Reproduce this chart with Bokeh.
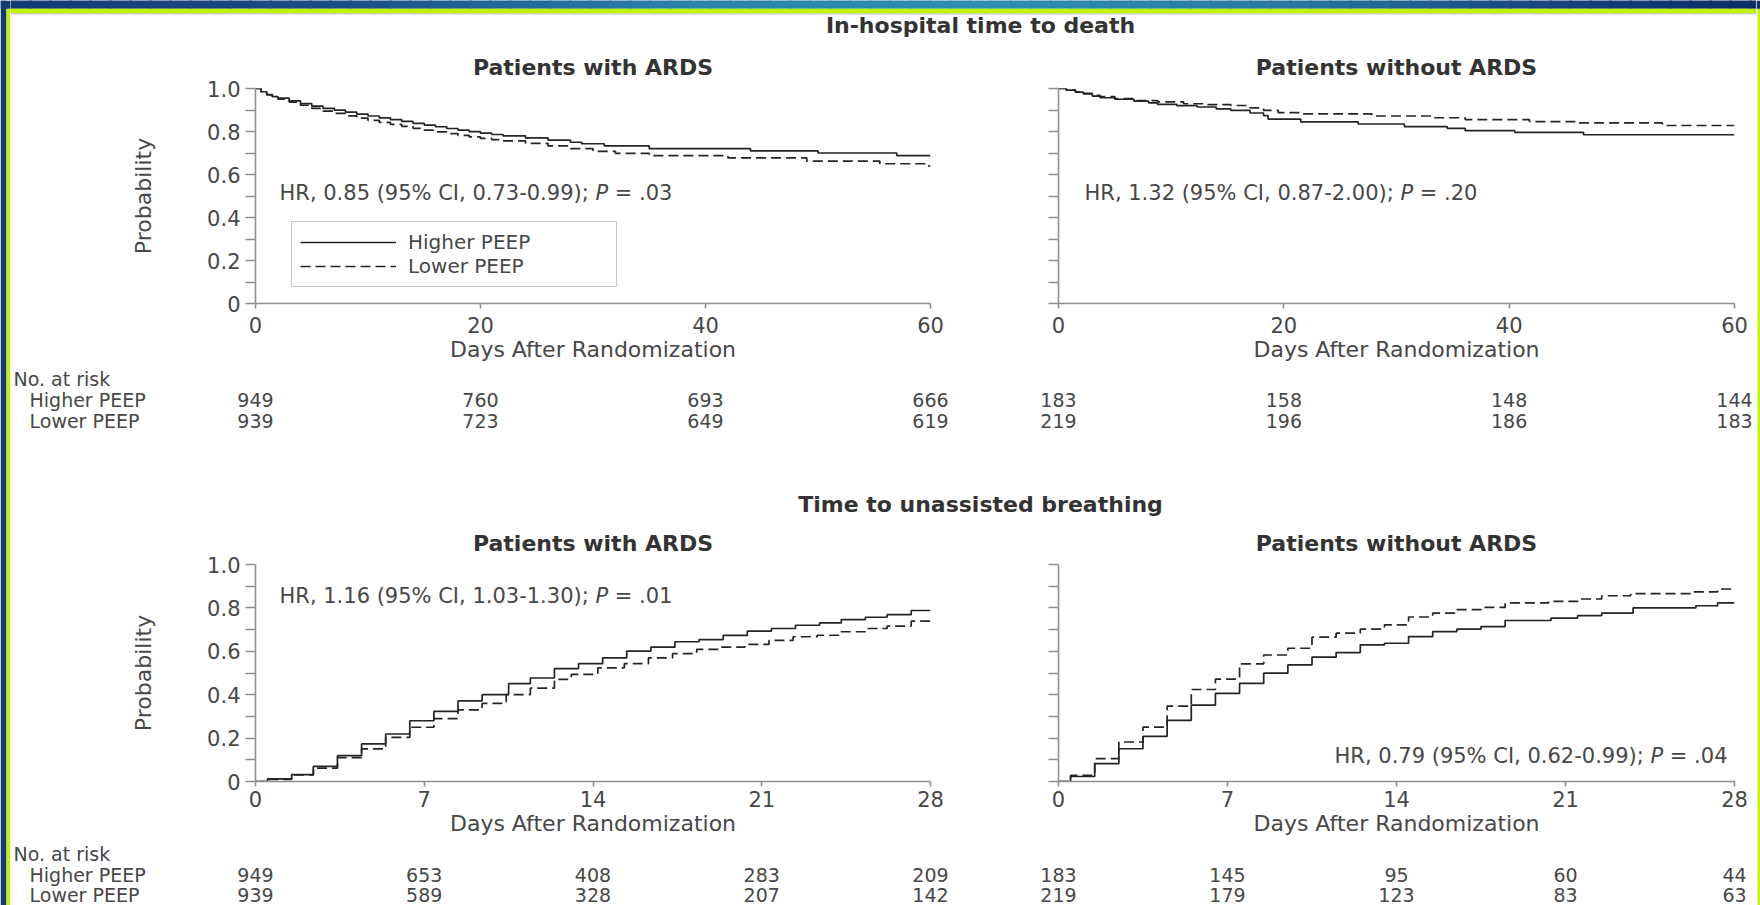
from bokeh.plotting import figure
from bokeh.models import (Range1d, FactorRange, FixedTicker, CustomJSTickFormatter, Label,
                          Legend, LegendItem, BoxAnnotation)
from bokeh.layouts import column, row
from bokeh.embed import file_html
from bokeh.resources import INLINE
from bokeh.core.properties import value

# ---------------------------------------------------------------- data
group_labels = ["Higher PEEP", "Lower PEEP"]
risk_header = "No. at risk"
outcome_titles = ["In-hospital time to death", "Time to unassisted breathing"]
panel_titles = ["Patients with ARDS", "Patients without ARDS"]
x_axis_label = "Days After Randomization"
y_axis_label = "Probability"

death_ticks = [0, 20, 40, 60]
breath_ticks = [0, 7, 14, 21, 28]
prob_ticks = [0, 0.2, 0.4, 0.6, 0.8, 1.0]
prob_minor_ticks = [0.1, 0.3, 0.5, 0.7, 0.9]

# In-hospital survival, patients with ARDS
death_ards_hi_days = [0, 0.5, 1, 1.5, 2, 3, 4, 5, 6, 7, 8, 9, 10, 11, 12, 13, 14, 15, 16, 17, 18, 19,
                      20, 21, 22, 24, 26, 28, 29, 31, 35, 44, 50, 57, 60]
death_ards_hi_surv = [1.0, 0.985, 0.972, 0.962, 0.955, 0.942, 0.93, 0.918, 0.908, 0.899, 0.89, 0.881,
                      0.872, 0.863, 0.855, 0.847, 0.838, 0.83, 0.822, 0.814, 0.806, 0.799, 0.792, 0.786,
                      0.78, 0.77, 0.76, 0.75, 0.743, 0.733, 0.72, 0.71, 0.70, 0.688, 0.688]
death_ards_lo_days = [0, 0.5, 1, 1.5, 2, 3, 4, 5, 6, 7, 8, 9, 10, 11, 12, 13, 14, 15, 16, 17, 18, 19,
                      20, 21, 22, 24, 26, 28, 30, 32, 35, 42, 49, 55.5, 59.5, 60]
death_ards_lo_surv = [1.0, 0.983, 0.97, 0.96, 0.95, 0.937, 0.922, 0.908, 0.895, 0.884, 0.873, 0.862,
                      0.852, 0.842, 0.833, 0.824, 0.815, 0.806, 0.798, 0.79, 0.782, 0.775, 0.768, 0.762,
                      0.756, 0.745, 0.733, 0.72, 0.708, 0.698, 0.688, 0.677, 0.662, 0.65, 0.64, 0.64]

# In-hospital survival, patients without ARDS
death_non_hi_days = [0, 0.7, 1.5, 2.2, 3, 3.7, 5, 6.7, 8, 8.8, 10.5, 12.3, 14, 15.3, 17, 18.2, 18.6,
                     21.5, 26.6, 30.7, 34.5, 36.1, 40.5, 46.6, 60]
death_non_hi_surv = [1.0, 0.992, 0.983, 0.975, 0.965, 0.957, 0.95, 0.941, 0.933, 0.926, 0.92, 0.914,
                     0.905, 0.898, 0.886, 0.874, 0.858, 0.845, 0.835, 0.823, 0.815, 0.804, 0.796,
                     0.785, 0.785]
death_non_lo_days = [0, 0.7, 1.5, 2.2, 3, 3.7, 5, 6.7, 8.8, 11.1, 13, 15.3, 17, 18.2, 19.5, 21.5,
                     27.8, 33.2, 36.1, 41.8, 46, 53.6, 60]
death_non_lo_surv = [1.0, 0.993, 0.985, 0.977, 0.968, 0.962, 0.953, 0.944, 0.938, 0.929, 0.925, 0.921,
                     0.91, 0.898, 0.888, 0.882, 0.872, 0.864, 0.855, 0.846, 0.84, 0.828, 0.828]

# Unassisted breathing, patients with ARDS
breath_ards_hi_days = [0, 0.5, 1.5, 2.4, 3.4, 4.4, 5.4, 6.4, 7.4, 8.4, 9.4, 10.5, 11.4, 12.4, 13.4,
                       14.4, 15.4, 16.4, 17.4, 18.4, 19.4, 20.4, 21.4, 22.4, 23.4, 24.3, 25.3, 26.2,
                       27.2, 28]
breath_ards_hi_prob = [0, 0.012, 0.032, 0.07, 0.119, 0.173, 0.219, 0.28, 0.323, 0.372, 0.40, 0.451,
                       0.477, 0.52, 0.543, 0.57, 0.601, 0.619, 0.644, 0.654, 0.673, 0.693, 0.705, 0.72,
                       0.731, 0.746, 0.757, 0.769, 0.788, 0.788]
breath_ards_lo_days = [0, 0.5, 1.5, 2.4, 3.4, 4.4, 5.4, 6.4, 7.4, 8.4, 9.4, 10.4, 11.4, 12.4, 13.1,
                       14.2, 15.3, 16.3, 17.3, 18.3, 19.3, 20.3, 21.3, 22.3, 23.3, 24.2, 25.3, 26.2,
                       27.2, 28]
breath_ards_lo_prob = [0, 0.01, 0.03, 0.062, 0.11, 0.15, 0.203, 0.25, 0.29, 0.33, 0.36, 0.40, 0.43,
                       0.471, 0.494, 0.524, 0.543, 0.57, 0.589, 0.609, 0.619, 0.632, 0.65, 0.667,
                       0.674, 0.69, 0.705, 0.716, 0.739, 0.739]

# Unassisted breathing, patients without ARDS
breath_non_hi_days = [0, 0.5, 1.5, 2.5, 3.5, 4.5, 5.5, 6.5, 7.5, 8.5, 9.5, 10.5, 11.5, 12.5, 13.5,
                      14.5, 15.5, 16.5, 17.5, 18.5, 20.4, 21.5, 22.5, 23.8, 26.4, 27.3, 28]
breath_non_hi_prob = [0, 0.023, 0.082, 0.151, 0.208, 0.282, 0.352, 0.406, 0.452, 0.499, 0.537, 0.573,
                      0.594, 0.63, 0.637, 0.668, 0.691, 0.702, 0.714, 0.742, 0.753, 0.764, 0.776,
                      0.80, 0.81, 0.823, 0.823]
breath_non_lo_days = [0, 0.5, 1.5, 2.5, 3.5, 4.5, 5.5, 6.5, 7.5, 8.5, 9.5, 10.5, 11.5, 12.5, 13.5,
                      14.5, 15.5, 16.5, 17.5, 18.5, 20.3, 21.5, 22.5, 23.7, 26.3, 27.3, 28]
breath_non_lo_prob = [0, 0.028, 0.105, 0.182, 0.251, 0.347, 0.424, 0.472, 0.542, 0.583, 0.614, 0.665,
                      0.684, 0.702, 0.722, 0.758, 0.776, 0.792, 0.802, 0.823, 0.83, 0.841, 0.856,
                      0.866, 0.874, 0.887, 0.887]

# Numbers at risk
risk_death_ards_hi = [949, 760, 693, 666]
risk_death_ards_lo = [939, 723, 649, 619]
risk_death_non_hi = [183, 158, 148, 144]
risk_death_non_lo = [219, 196, 186, 183]
risk_breath_ards_hi = [949, 653, 408, 283, 209]
risk_breath_ards_lo = [939, 589, 328, 207, 142]
risk_breath_non_hi = [183, 145, 95, 60, 44]
risk_breath_non_lo = [219, 179, 123, 83, 63]

# Hazard ratio annotations (text before italic P, italic P, text after)
hr_death_ards = ["HR, 0.85 (95% CI, 0.73-0.99);", "P", "= .03"]
hr_death_non = ["HR, 1.32 (95% CI, 0.87-2.00);", "P", "= .20"]
hr_breath_ards = ["HR, 1.16 (95% CI, 1.03-1.30);", "P", "= .01"]
hr_breath_non = ["HR, 0.79 (95% CI, 0.62-0.99);", "P", "= .04"]

# ---------------------------------------------------------------- style
FONT = "DejaVu Sans"
TXT = "#474747"
TITLE_C = "#333333"
AX = "#8f8f8f"
INK = "#242424"
YELLOW = "#c2f400"
EDGE_GRAY = "#c4c4c4"
W, H = 1760, 905
BAND = 8.3       # dark band height at the top
YBAND = 12.7     # bottom of the yellow band

DEJAVU_ADV = {" ": 651, "%": 1946, "(": 799, ")": 799, ",": 651, "-": 739, ".": 651, ";": 690,
              "=": 1716, "C": 1430, "H": 1540, "I": 604, "P": 1235, "R": 1423}

# decorative slide-background gradient stops (page x, colour)
GRAD_STOPS = [(0, (0x13, 0x3a, 0x72)), (350, (0x1b, 0x4f, 0x86)), (700, (0x2a, 0x84, 0xaa)),
              (1000, (0x2f, 0x8f, 0xb2)), (1300, (0x27, 0x77, 0x9f)), (1550, (0x17, 0x43, 0x7b)),
              (1760, (0x0e, 0x2d, 0x66))]


def grad_color(px):
    for (a, ca), (b, cb) in zip(GRAD_STOPS[:-1], GRAD_STOPS[1:]):
        if a <= px <= b:
            t = (px - a) / (b - a)
            c = [round(ca[i] + (cb[i] - ca[i]) * t) for i in range(3)]
            return "#%02x%02x%02x" % tuple(c)
    return "#0e2d66"


def text_width(s, size):
    return sum(DEJAVU_ADV.get(ch, 1303) for ch in s) * size / 2048.0


# page geometry (page pixels) ------------------------------------------------
COLS = {"left": dict(x0=10, x1=990, fl=255, fr=930),
        "right": dict(x0=990, x1=1756, fl=1058, fr=1734)}
ROWS = {"top": dict(y0=44, y1=368, ft=88, fb=303, r1=431, tick_sd=8, lab_sd=1),
        "bottom": dict(y0=520, y1=843, ft=563, fb=781, r1=905, tick_sd=4, lab_sd=1)}


def x_at(col, x_end, px):
    c = COLS[col]
    return (px - c["fl"]) / (c["fr"] - c["fl"]) * x_end


def y_at(rw, py):
    r = ROWS[rw]
    return (r["fb"] - py) / (r["fb"] - r["ft"])


def base_fig(width, height, **kw):
    f = figure(width=width, height=height, output_backend="svg", toolbar_location=None, **kw)
    f.outline_line_color = None
    f.background_fill_color = "white"
    f.border_fill_color = "white"
    return f


def style_axis(ax, ticker, tick_out, tick_sd, label, standoff):
    ax.ticker = ticker
    ax.axis_line_color = AX
    ax.axis_line_width = 1.6
    ax.major_tick_line_color = AX
    ax.major_tick_line_width = 1.6
    ax.major_tick_in = 0
    ax.major_tick_out = tick_out
    ax.minor_tick_line_color = AX
    ax.minor_tick_line_width = 1.6
    ax.minor_tick_in = 0
    ax.minor_tick_out = tick_out
    ax.major_label_text_font = FONT
    ax.major_label_text_font_size = "21px"
    ax.major_label_text_color = TXT
    ax.major_label_standoff = tick_sd
    if label:
        ax.axis_label = label
        ax.axis_label_text_font = FONT
        ax.axis_label_text_font_size = "22px"
        ax.axis_label_text_font_style = "normal"
        ax.axis_label_text_color = TXT
        ax.axis_label_standoff = standoff


def add_hr(p, x, y, parts, align_right=False, size=21):
    sp = text_width(" ", size)
    w0 = text_width(parts[0], size)
    wp = text_width(parts[1], size)
    offs = [0, w0 + sp, w0 + sp + wp + sp]
    total = offs[2] + text_width(parts[2], size)
    shift = -total if align_right else 0
    for part, off, fs in zip(parts, offs, ["normal", "italic", "normal"]):
        p.add_layout(Label(x=x, y=y, x_offset=shift + off, text=part, text_align="left",
                           text_baseline="middle", text_font=FONT, text_font_style=fs,
                           text_font_size=f"{size}px", text_color=TXT))


def make_panel(col, rw, x_end, ticks, title, curves, hr, hr_pos, hr_right, legend=False):
    c, r = COLS[col], ROWS[rw]
    p = base_fig(c["x1"] - c["x0"], r["y1"] - r["y0"],
                 x_range=Range1d(0, x_end), y_range=Range1d(0, 1),
                 min_border_left=c["fl"] - c["x0"], min_border_right=c["x1"] - c["fr"],
                 min_border_top=r["ft"] - r["y0"], min_border_bottom=r["y1"] - r["fb"])
    p.grid.visible = False

    p.title.text = title
    p.title.align = "center"
    p.title.text_font = FONT
    p.title.text_font_size = "22px"
    p.title.text_font_style = "bold"
    p.title.text_color = TITLE_C
    p.title.standoff = 17

    left = col == "left"
    style_axis(p.xaxis[0], FixedTicker(ticks=ticks, minor_ticks=[]), 5, r["tick_sd"],
               x_axis_label, r["lab_sd"])
    p.xaxis[0].minor_tick_line_color = None
    style_axis(p.yaxis[0], FixedTicker(ticks=prob_ticks, minor_ticks=prob_minor_ticks), 10, 5,
               y_axis_label if left else None, 48)
    if left:
        p.yaxis[0].formatter = CustomJSTickFormatter(
            code="return tick == 0 ? '0' : tick.toFixed(1);")
    else:
        p.yaxis[0].formatter = CustomJSTickFormatter(code="return '';")

    (t_hi, v_hi), (t_lo, v_lo) = curves
    r_hi = p.step(x=t_hi, y=v_hi, mode="after", line_color=INK, line_width=1.7)
    r_lo = p.step(x=t_lo, y=v_lo, mode="after", line_color=INK, line_width=1.7,
                  line_dash="10 5")

    if legend:
        lg = Legend(items=[LegendItem(label=group_labels[0], renderers=[r_hi]),
                           LegendItem(label=group_labels[1], renderers=[r_lo])],
                    location=(36, 16), margin=0, padding=8, spacing=0,
                    glyph_width=96, glyph_height=20, label_height=20, label_width=200,
                    label_standoff=12, border_line_color=AX, border_line_width=1.5,
                    background_fill_color="white", background_fill_alpha=1.0,
                    label_text_font=FONT, label_text_font_size="20px",
                    label_text_color=TXT)
        p.add_layout(lg)

    add_hr(p, x_at(col, x_end, hr_pos[0]), y_at(rw, hr_pos[1]), hr, align_right=hr_right)
    return p


def make_risk(col, rw, x_end, ticks, risks):
    c, r = COLS[col], ROWS[rw]
    f = base_fig(c["x1"] - c["x0"], r["r1"] - r["y1"],
                 x_range=Range1d(x_at(col, x_end, c["x0"]), x_at(col, x_end, c["x1"])),
                 y_range=FactorRange(factors=[group_labels[1], group_labels[0], risk_header]),
                 x_axis_type=None, y_axis_type=None, min_border=0)
    common = dict(text_baseline="middle", text_font=value(FONT), text_font_size="19px",
                  text_color=TXT)
    for vals, grp in zip(risks, group_labels):
        f.text(x=ticks, y=[grp] * len(ticks), text=[str(v) for v in vals],
               text_align="center", **common)
    if col == "left":
        f.text(x=[x_at(col, x_end, 13)], y=[risk_header], text=[risk_header],
               text_align="left", **common)
        f.text(x=[x_at(col, x_end, 29)] * 2, y=group_labels, text=group_labels,
               text_align="left", **common)
    return f


def make_title_fig(y0, y1, text, center_py, top_band=False):
    h = y1 - y0
    x0, x1 = COLS["left"]["x0"], COLS["right"]["x1"]
    w = x1 - x0
    f = base_fig(w, h, x_range=Range1d(x0, x1), y_range=Range1d(0, h),
                 x_axis_type=None, y_axis_type=None, min_border=0)
    if top_band:
        step = 20
        for px in range(x0, x1, step):
            f.add_layout(BoxAnnotation(left=px - 1, right=px + step + 1, bottom=h - BAND,
                                       top=h + 1, fill_color=grad_color(px + step / 2),
                                       fill_alpha=1.0, line_color=None))
        f.add_layout(BoxAnnotation(bottom=h - YBAND, top=h - BAND, fill_color=YELLOW,
                                   fill_alpha=1.0, line_color=None))
        f.add_layout(BoxAnnotation(bottom=h - YBAND - 1.2, top=h - YBAND, fill_color=EDGE_GRAY,
                                   fill_alpha=1.0, line_color=None))
    f.add_layout(Label(x=980, y=y1 - center_py, text=text, text_align="center",
                       text_baseline="middle", text_font=FONT, text_font_size="22px",
                       text_font_style="bold", text_color=TITLE_C))
    return f


def make_edge(x0, x1, yellow_from, yellow_to):
    w = x1 - x0
    f = base_fig(w, H, x_range=Range1d(x0, x1), y_range=Range1d(0, H),
                 x_axis_type=None, y_axis_type=None, min_border=0)
    if x0 == 0:
        f.add_layout(BoxAnnotation(left=0, right=yellow_from, bottom=0, top=H,
                                   fill_color=grad_color(0), fill_alpha=1.0, line_color=None))
    f.add_layout(BoxAnnotation(left=yellow_from, right=yellow_to, bottom=0, top=H - BAND,
                               fill_color=YELLOW, fill_alpha=1.0, line_color=None))
    f.add_layout(BoxAnnotation(left=x0, right=x1, bottom=H - BAND, top=H,
                               fill_color=grad_color((x0 + x1) / 2), fill_alpha=1.0,
                               line_color=None))
    return f


t1 = make_title_fig(0, 44, outcome_titles[0], 25, top_band=True)
t2 = make_title_fig(431, 520, outcome_titles[1], 504)

tl = make_panel("left", "top", 60, death_ticks, panel_titles[0],
                [(death_ards_hi_days, death_ards_hi_surv), (death_ards_lo_days, death_ards_lo_surv)],
                hr_death_ards, (279, 192), False, legend=True)
tr = make_panel("right", "top", 60, death_ticks, panel_titles[1],
                [(death_non_hi_days, death_non_hi_surv), (death_non_lo_days, death_non_lo_surv)],
                hr_death_non, (1084, 192), False)
bl = make_panel("left", "bottom", 28, breath_ticks, panel_titles[0],
                [(breath_ards_hi_days, breath_ards_hi_prob), (breath_ards_lo_days, breath_ards_lo_prob)],
                hr_breath_ards, (279, 595), False)
br = make_panel("right", "bottom", 28, breath_ticks, panel_titles[1],
                [(breath_non_hi_days, breath_non_hi_prob), (breath_non_lo_days, breath_non_lo_prob)],
                hr_breath_non, (1727, 755), True)

tl_r = make_risk("left", "top", 60, death_ticks, [risk_death_ards_hi, risk_death_ards_lo])
tr_r = make_risk("right", "top", 60, death_ticks, [risk_death_non_hi, risk_death_non_lo])
bl_r = make_risk("left", "bottom", 28, breath_ticks, [risk_breath_ards_hi, risk_breath_ards_lo])
br_r = make_risk("right", "bottom", 28, breath_ticks, [risk_breath_non_hi, risk_breath_non_lo])

left_edge = make_edge(0, 10, 6, 10)
right_edge = make_edge(1756, 1760, 1757, 1760)

body = column(t1, row(tl, tr), row(tl_r, tr_r), t2, row(bl, br), row(bl_r, br_r))
root = row(left_edge, body, right_edge)

open("out.html", "w").write(file_html(root, INLINE))
